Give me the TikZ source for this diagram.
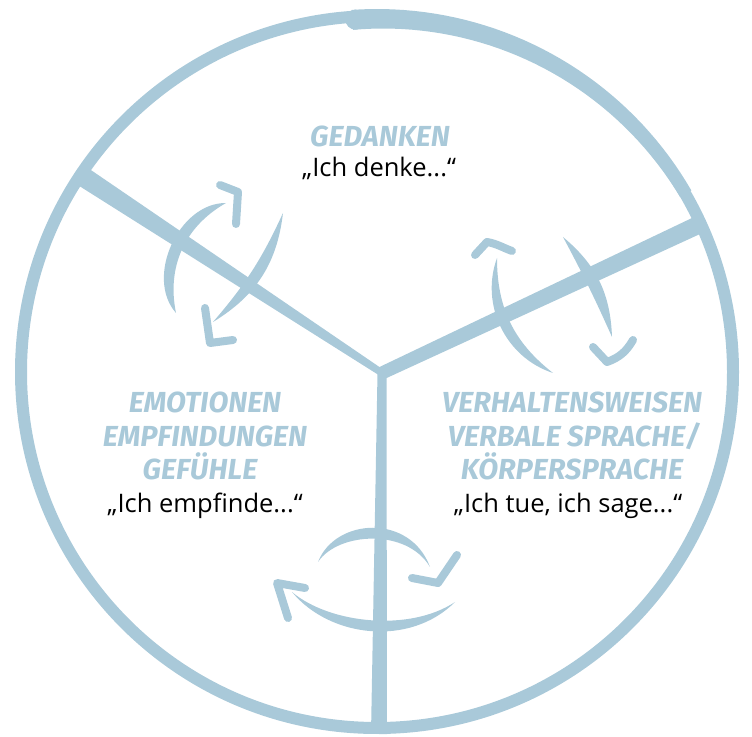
\documentclass[tikz,border=0pt]{standalone}
\usepackage{fontspec}
\setmainfont{Open Sans}
\newfontfamily\brushfont{Fira Sans}
\usepackage{xcolor}
\usetikzlibrary{positioning,calc}
\definecolor{brushblue}{HTML}{A9C9D9}

\begin{document}
\begin{tikzpicture}[x=1pt,y=1pt,
    brush/.style={fill=brushblue},
    tip/.style={draw=brushblue,line width=8pt,line cap=round,line join=round},
    headtxt/.style={anchor=base,inner sep=0pt,text=brushblue,
      font=\brushfont\bfseries\itshape\fontsize{29}{33}\selectfont},
    quotetxt/.style={anchor=base,inner sep=0pt,font=\fontsize{25.5}{30}\selectfont}]
    \useasboundingbox (0,0) rectangle (752,736);
    % circle: centre (377,364), r = 356
    \coordinate (C) at (377,364);
    \draw[brushblue,line width=12pt] (C) circle (356pt);
    % thicker brush stroke along the top
    \fill[brush] plot[domain=94:30,samples=40] ({377+363*cos(\x)},{364+363*sin(\x)})
      -- plot[domain=30:94,samples=40] ({377+(350-7*(\x-30)/64)*cos(\x)},{364+(350-7*(\x-30)/64)*sin(\x)}) -- cycle;
    \fill[brush] (C) ++(93.5:353) circle (10pt);
    % three spokes, thin at the centre
    \coordinate (J) at (382,363);
    \coordinate (R1) at ($(C)+(146.4:358)$);
    \coordinate (R2) at ($(C)+(24.6:358)$);
    \coordinate (R3) at (379,2);
    \foreach \r/\a/\b in {R1/3.5/10, R2/6.5/9, R3/4.5/8} {
      \fill[brush] ($(J)!\a pt!90:(\r)$) -- ($(\r)!\b pt!-90:(J)$)
        -- ($(\r)!\b pt!90:(J)$) -- ($(J)!\a pt!-90:(\r)$) -- cycle;
    }
    % cycle arrows: upper left
    \fill[brush] (226,533) to[bend right=66] (176,423) to[bend left=36] (226,533);
    \fill[brush] (283,523) to[bend left=26] (213,414) to[bend right=8] (283,523);
    \draw[tip] (220,551) -- (238,544) -- (236,512);
    \draw[tip] (205,428) -- (210,393) -- (233,396);
    % cycle arrows: upper right
    \fill[brush] (497,478) to[bend right=46] (553,363) to[bend left=26] (497,478);
    \fill[brush] (563,499) to[bend left=24] (612,399) to[bend right=2] (563,499);
    \draw[tip] (475,481) -- (487,494) to[out=-10,in=160] (512,485);
    \draw[tip] (593,389) -- (607,374) to[out=20,in=-120] (633,396);
    % cycle arrows: bottom
    \fill[brush] (318,174) .. controls (335,218) and (410,223) .. (430,169)
      .. controls (407,208) and (338,204) .. (318,174);
    \draw[tip] (412,158) -- (438,153) -- (457,181);
    \fill[brush] (292,144) .. controls (330,98) and (410,89) .. (455,134)
      .. controls (410,104) and (330,112) .. (292,144);
    \draw[tip] (305,148) -- (277,153) -- (288,118);
    % texts
    \node[headtxt] (gedanken) at (380,589) {GEDANKEN};
    \node[quotetxt] (denke) at (379,559) {„Ich denke...“};
    \node[headtxt] (emotionen) at (205,323) {EMOTIONEN};
    \node[headtxt] (empfindungen) at (205,289) {EMPFINDUNGEN};
    \node[headtxt] (gefuehle) at (200,256) {GEFÜHLE};
    \node[quotetxt] (empfinde) at (205,223) {„Ich empfinde...“};
    \node[headtxt] (verhalten) at (572,323) {VERHALTENSWEISEN};
    \node[headtxt] (sprache) at (574,289) {VERBALE SPRACHE/};
    \node[headtxt] (koerper) at (572,256) {KÖRPERSPRACHE};
    \node[quotetxt] (sage) at (568,223) {„Ich tue, ich sage...“};
\end{tikzpicture}
\end{document}
